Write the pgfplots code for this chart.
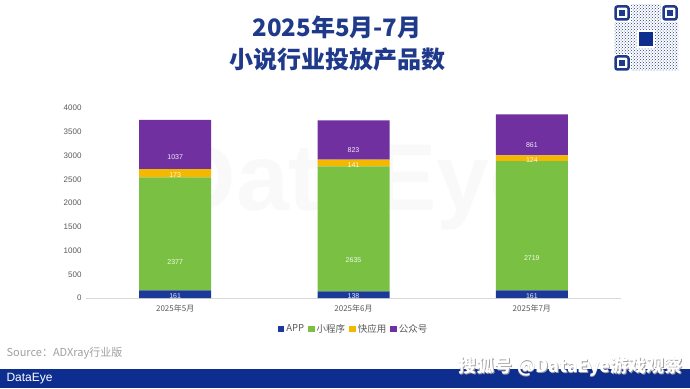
\documentclass[border=0pt]{standalone}
\usepackage{pgfplots}
\usepackage{pgfplotstable}
\pgfplotsset{compat=1.18}
\usepackage{fontspec}
\setmainfont{Liberation Sans}
\newfontfamily\cjk{Noto Sans CJK SC}
\usetikzlibrary{patterns}
\definecolor{cApp}{HTML}{1B3A98}
\definecolor{cMini}{HTML}{7AC143}
\definecolor{cQuick}{HTML}{F5B800}
\definecolor{cPub}{HTML}{7030A0}
\definecolor{titleblue}{HTML}{1F3A8A}
\definecolor{banner}{HTML}{0D2E8E}
\definecolor{tickgray}{HTML}{595959}
\pgfplotstableread{
x val
0 161
1 138
2 161
}\tApp
\pgfplotstableread{
x val
0 2377
1 2635
2 2719
}\tMini
\pgfplotstableread{
x val
0 173
1 141
2 124
}\tQuick
\pgfplotstableread{
x val
0 1037
1 823
2 861
}\tPub
\pgfplotsset{
  sq/.style={legend image code/.code={\fill[##1,draw=none] (0pt,-3.3pt) rectangle (6.6pt,3.3pt);}}
}
\begin{document}
\begin{tikzpicture}
\path (0pt,0pt) rectangle (690pt,388pt);
% faint watermark
\node[text=gray!5, font=\bfseries\fontsize{95}{95}\selectfont] at (355pt,200pt) {DataEye};
% title
\node[text=titleblue, font=\cjk\bfseries\fontsize{24}{26}\selectfont] at (337pt,361pt) {2025年5月-7月};
\node[text=titleblue, font=\cjk\bfseries\fontsize{24}{26}\selectfont] at (337pt,329pt) {小说行业投放产品数};
% QR placeholder
\fill[white] (612pt,315pt) rectangle (680pt,385pt);
\fill[pattern=crosshatch dots, pattern color=titleblue] (614pt,317pt) rectangle (678pt,383pt);
\foreach \qx/\qy in {614/367, 662/367, 614/317}{
  \fill[white] (\qx pt-1pt,\qy pt-1pt) rectangle (\qx pt+17pt,\qy pt+17pt);
  \draw[titleblue, line width=2.5pt, rounded corners=2pt] (\qx pt+1.5pt,\qy pt+1.5pt) rectangle (\qx pt+14.5pt,\qy pt+14.5pt);
  \fill[titleblue] (\qx pt+5pt,\qy pt+5pt) rectangle (\qx pt+11pt,\qy pt+11pt);
}
\fill[white] (637pt,340pt) rectangle (655pt,358pt);
\fill[banner] (639pt,342pt) rectangle (653pt,356pt);
\begin{axis}[
  at={(86pt,90pt)}, anchor=south west,
  scale only axis, width=535pt, height=190pt,
  ybar stacked, bar width=72pt,
  xmin=-0.5, xmax=2.5, ymin=0, ymax=4000,
  clip=false,
  axis x line*=bottom,
  axis y line*=left,
  y axis line style={draw=none},
  x axis line style={draw=gray!30, line width=0.6pt},
  xtick={0,1,2},
  xticklabels={2025年5月,2025年6月,2025年7月},
  major x tick style={draw=none},
  ytick style={draw=none},
  extra x ticks={-0.5,0.5,1.5,2.5},
  extra x tick labels={},
  extra x tick style={major tick length=3pt, tick style={draw=gray!30}, tick align=outside},
  xticklabel style={font=\cjk\fontsize{8}{9}\selectfont, text=tickgray, yshift=-3.5pt},
  ytick={0,500,...,4000},
  /pgf/number format/1000 sep={},
  /pgf/number format/assume math mode=true,
  yticklabel style={font=\fontsize{8}{9}\selectfont, text=tickgray, xshift=-1pt},
  legend style={at={(0.5,-0.115)}, anchor=north, draw=none, fill=none, legend columns=4,
    font=\cjk\fontsize{9.5}{10}\selectfont, text=tickgray,
    /tikz/every even column/.append style={column sep=2pt}},
  legend cell align=left,
  visualization depends on=\thisrow{val} \as \rawy,
  nodes near coords={\pgfmathprintnumber[assume math mode=true,1000 sep={}]{\rawy}},
  every node near coord/.append style={font=\fontsize{7}{7}\selectfont, text=white, text opacity=0.9, anchor=center, inner sep=1pt, shift={(axis direction cs:0,-\rawy/4)}},
]
\addplot[fill=cApp, draw=none, sq] table[x=x,y=val] {\tApp};
\addplot[fill=cMini, draw=none, sq] table[x=x,y=val] {\tMini};
\addplot[fill=cQuick, draw=none, sq] table[x=x,y=val] {\tQuick};
\addplot[fill=cPub, draw=none, sq] table[x=x,y=val] {\tPub};
\legend{APP,小程序,快应用,公众号}
\end{axis}
% source
\node[anchor=west, text=gray!75, font=\cjk\fontsize{11}{12}\selectfont] at (3pt,35pt) {Source：ADXray行业版};
% banner
\fill[banner] (0pt,0pt) rectangle (690pt,19pt);
\node[anchor=west, text=white, font=\fontsize{12}{12}\selectfont] at (3pt,9.5pt) {DataEye};
\node[anchor=east, text=gray!75, font=\cjk\bfseries\fontsize{18}{19}\selectfont] at (686.8pt,20.2pt) {搜狐号 @DataEye游戏观察};
\node[anchor=east, text=white, font=\cjk\bfseries\fontsize{18}{19}\selectfont] at (686pt,21pt) {搜狐号 @DataEye游戏观察};
\end{tikzpicture}
\end{document}
